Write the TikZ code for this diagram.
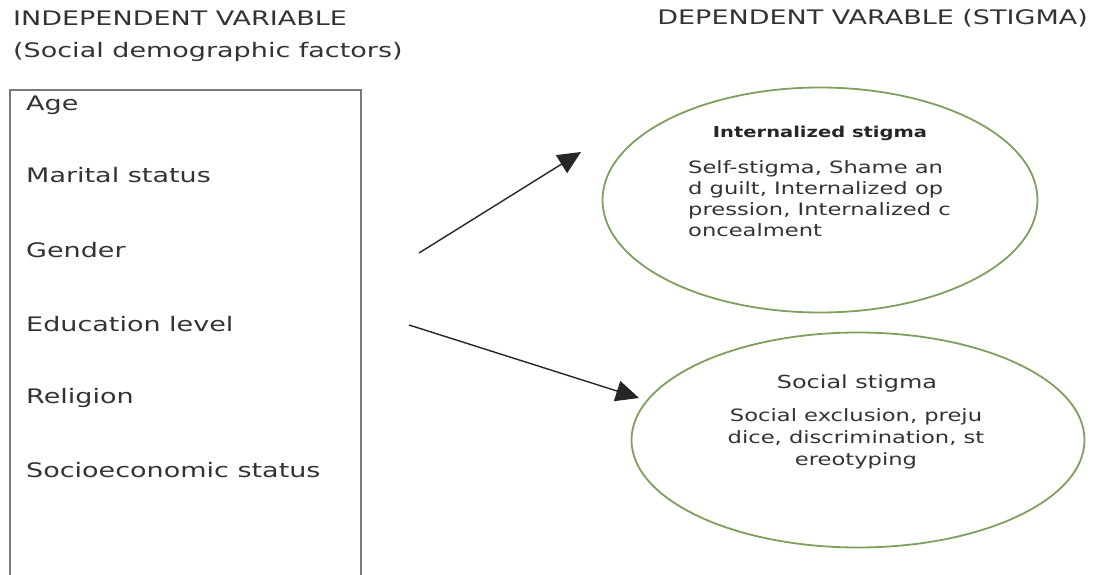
\documentclass[tikz,border=0pt]{standalone}
\usepackage{fontspec}
\setmainfont{DejaVu Sans}
\newfontfamily\lblfont[FakeStretch=1.35]{DejaVu Sans}
\newfontfamily\bodyfont[FakeStretch=1.33]{DejaVu Sans}
\newfontfamily\ttlfont[FakeStretch=1.3]{DejaVu Sans}
\usetikzlibrary{shapes.geometric,arrows.meta}
\definecolor{txt}{HTML}{333333}
\definecolor{ell}{RGB}{125,160,95}
\definecolor{boxc}{HTML}{7A7A7A}
\begin{document}
\begin{tikzpicture}[x=1pt,y=-1pt,
  lbl/.style={anchor=base west,inner sep=0pt,text=txt,font=\lblfont\fontsize{20}{24}\selectfont},
  oval/.style={ellipse,draw=ell,line width=1.8pt,inner sep=0pt},
  ttl/.style={anchor=base,inner sep=0pt,text=black!85,font=\ttlfont\bfseries\fontsize{15}{18}\selectfont},
  body/.style={inner sep=0pt,text=txt,font=\bodyfont\fontsize{17}{21}\selectfont},
  arr/.style={-{Triangle[length=23pt,width=21pt]},line width=1.4pt,draw=black!85}]
\useasboundingbox (0,0) rectangle (1096,575);
\fill[white] (0,0) rectangle (1096,575);
% left box (bottom edge falls outside the page)
\node[draw=boxc,line width=1.8pt,minimum width=351pt,minimum height=500pt,inner sep=0pt] (box) at (185.5,340) {};
\node[lbl] (iv) at (13,26) {INDEPENDENT VARIABLE};
\node[lbl] (sdf) at (13,58) {(Social demographic factors)};
\node[lbl] (age) at (26,111) {Age};
\node[lbl] (mar) at (26,183) {Marital status};
\node[lbl] (gen) at (26,257) {Gender};
\node[lbl] (edu) at (26,331) {Education level};
\node[lbl] (rel) at (26,403) {Religion};
\node[lbl] (ses) at (26,477) {Socioeconomic status};
\node[lbl,anchor=base east] (dv) at (1088,25) {DEPENDENT VARABLE (STIGMA)};
% ellipses
\node[oval,minimum width=435pt,minimum height=225pt] (ist) at (820,200) {};
\node[oval,minimum width=453pt,minimum height=215pt] (sst) at (858,440) {};
\node[ttl] (istt) at (820,138) {Internalized stigma};
\node[body,anchor=north west,align=left] (istb) at (688,160) {Self-stigma, Shame an\\d guilt, Internalized op\\pression, Internalized c\\oncealment};
\node[anchor=base,inner sep=0pt,text=txt,font=\bodyfont\fontsize{18}{21}\selectfont] (sstt) at (857,388) {Social stigma};
\node[body,anchor=north,align=center,font=\bodyfont\fontsize{17}{22}\selectfont] (sstb) at (856,408) {Social exclusion, preju\\dice, discrimination, st\\ereotyping};
% arrows
\coordinate (a1s) at (419,253);
\coordinate (a1e) at (581,152);
\coordinate (a2s) at (409,325);
\coordinate (a2e) at (639,398);
\draw[arr] (a1s) -- (a1e);
\draw[arr] (a2s) -- (a2e);
\end{tikzpicture}
\end{document}
